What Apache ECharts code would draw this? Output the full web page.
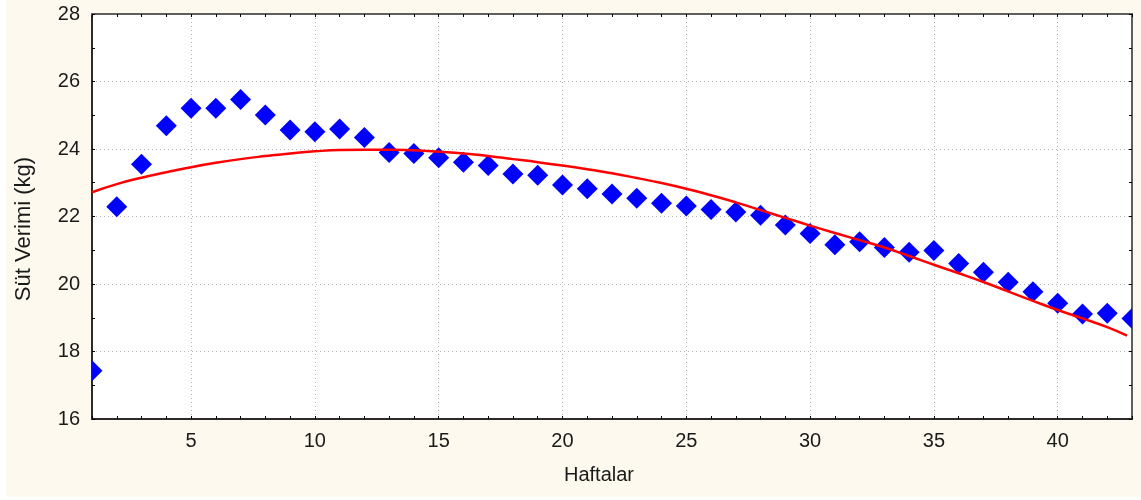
<!DOCTYPE html>
<html>
<head>
<meta charset="utf-8">
<script src="https://cdn.jsdelivr.net/npm/echarts@6/dist/echarts.min.js"></script>
<style>
  html, body { margin: 0; padding: 0; background: #ffffff; }
  #chart { position: absolute; left: 6px; top: 0; width: 1135px; height: 497px; }
</style>
</head>
<body>
<div id="chart"></div>
<script>
// Weekly milk yield (observed means)
const weeks = [1, 2, 3, 4, 5, 6, 7, 8, 9, 10, 11, 12, 13, 14, 15, 16, 17, 18, 19, 20, 21,
  22, 23, 24, 25, 26, 27, 28, 29, 30, 31, 32, 33, 34, 35, 36, 37, 38, 39, 40, 41, 42, 43];
const milkYield = [17.43, 22.29, 23.55, 24.69, 25.21, 25.21, 25.47, 25.01, 24.56, 24.51,
  24.59, 24.34, 23.90, 23.87, 23.74, 23.61, 23.51, 23.26, 23.22, 22.93, 22.82, 22.67,
  22.54, 22.39, 22.31, 22.21, 22.13, 22.04, 21.75, 21.50, 21.16, 21.25, 21.08, 20.94,
  20.99, 20.61, 20.35, 20.05, 19.77, 19.43, 19.11, 19.13, 18.98];

// Fitted lactation curve
const fitWeeks = [1, 2, 3, 4, 5, 6, 7, 8, 9, 10, 11, 12, 13, 14, 15, 16, 17, 18, 19, 20, 21,
  22, 23, 24, 25, 26, 27, 28, 29, 30, 31, 32, 33, 34, 35, 36, 37, 38, 39, 40, 41, 42, 42.8];
const fitYield = [22.72, 22.96, 23.15, 23.31, 23.46, 23.59, 23.70, 23.79, 23.87, 23.93,
  23.97, 23.98, 23.98, 23.96, 23.92, 23.87, 23.79, 23.70, 23.61, 23.51, 23.40, 23.28,
  23.14, 22.99, 22.82, 22.63, 22.42, 22.19, 21.96, 21.73, 21.51, 21.30, 21.08, 20.83,
  20.57, 20.32, 20.06, 19.78, 19.50, 19.23, 18.98, 18.72, 18.47];

// Labelled week ticks
const weekLabels = [5, 10, 15, 20, 25, 30, 35, 40];

const FONT = '"Liberation Sans", Arial, sans-serif';
const TEXT_COLOR = '#1a1a1a';
const DIAMOND_HALF = 10.5;

const chart = echarts.init(document.getElementById('chart'), null, { renderer: 'canvas' });

const tickStyle = { show: true, inside: true, length: 3, lineStyle: { color: '#000', width: 1 } };

chart.setOption({
  animation: false,
  backgroundColor: '#fef9ee',
  grid: { left: 86, right: 9, top: 14, bottom: 78, outerBoundsMode: 'none',
          show: true, backgroundColor: '#ffffff', borderWidth: 0 },
  xAxis: [
    {
      // bottom axis: line, labels, one tick per week
      type: 'value', position: 'bottom', min: 1, max: 43, interval: 1,
      name: 'Haftalar', nameLocation: 'middle', nameGap: 46,
      nameTextStyle: { fontFamily: FONT, fontSize: 20, color: TEXT_COLOR, padding: [0, 26, 0, 0] },
      axisLine: { show: true, lineStyle: { color: '#2b2b2b', width: 2 } },
      axisTick: tickStyle,
      axisLabel: { customValues: weekLabels, fontFamily: FONT, fontSize: 20, color: TEXT_COLOR, margin: 12 },
      splitLine: { show: false }
    },
    {
      // top frame with week ticks
      type: 'value', position: 'top', min: 1, max: 43, interval: 1,
      axisLine: { show: true, lineStyle: { color: '#5e5e5e', width: 2 } },
      axisTick: tickStyle,
      axisLabel: { show: false },
      splitLine: { show: false }
    },
    {
      // vertical dotted grid lines at the labelled weeks
      type: 'value', position: 'bottom', min: 1, max: 43,
      axisLine: { show: false },
      axisTick: { show: false, customValues: weekLabels },
      axisLabel: { show: false },
      splitLine: { show: true, lineStyle: { color: '#b4b4b4', width: 1, type: [1, 3] } }
    }
  ],
  yAxis: [
    {
      type: 'value', position: 'left', min: 16, max: 28, interval: 2,
      name: 'Süt Verimi (kg)', nameLocation: 'middle', nameGap: 57,
      nameTextStyle: { fontFamily: FONT, fontSize: 22, color: TEXT_COLOR, padding: [0, 25, 0, 0] },
      axisLine: { show: true, lineStyle: { color: '#2b2b2b', width: 2 } },
      axisTick: tickStyle,
      minorTick: { show: true, splitNumber: 2, length: 3, lineStyle: { color: '#000', width: 1 } },
      axisLabel: { fontFamily: FONT, fontSize: 20, color: TEXT_COLOR, margin: 12 },
      splitLine: { show: true, lineStyle: { color: '#b4b4b4', width: 1, type: [1, 3] } }
    },
    {
      type: 'value', position: 'right', min: 16, max: 28, interval: 1,
      axisLine: { show: true, lineStyle: { color: '#5e5e5e', width: 2 } },
      axisTick: tickStyle,
      axisLabel: { show: false },
      splitLine: { show: false }
    }
  ],
  series: [
    {
      // observed weekly means as diamonds, clipped to the plot area
      type: 'custom',
      name: 'Gözlenen',
      xAxisIndex: 0, yAxisIndex: 0,
      clip: true,
      z: 2,
      data: weeks.map((w, i) => [w, milkYield[i]]),
      encode: { x: 0, y: 1 },
      renderItem: function (params, api) {
        const p = api.coord([api.value(0), api.value(1)]);
        const r = DIAMOND_HALF;
        return {
          type: 'polygon',
          shape: { points: [[p[0], p[1] - r], [p[0] + r, p[1]], [p[0], p[1] + r], [p[0] - r, p[1]]] },
          style: { fill: '#0000ff', stroke: null }
        };
      }
    },
    {
      type: 'line',
      name: 'Model',
      xAxisIndex: 0, yAxisIndex: 0,
      z: 3,
      data: fitWeeks.map((w, i) => [w, fitYield[i]]),
      showSymbol: false,
      smooth: true,
      lineStyle: { color: '#ff0000', width: 2.5 }
    }
  ]
});
</script>
</body>
</html>
